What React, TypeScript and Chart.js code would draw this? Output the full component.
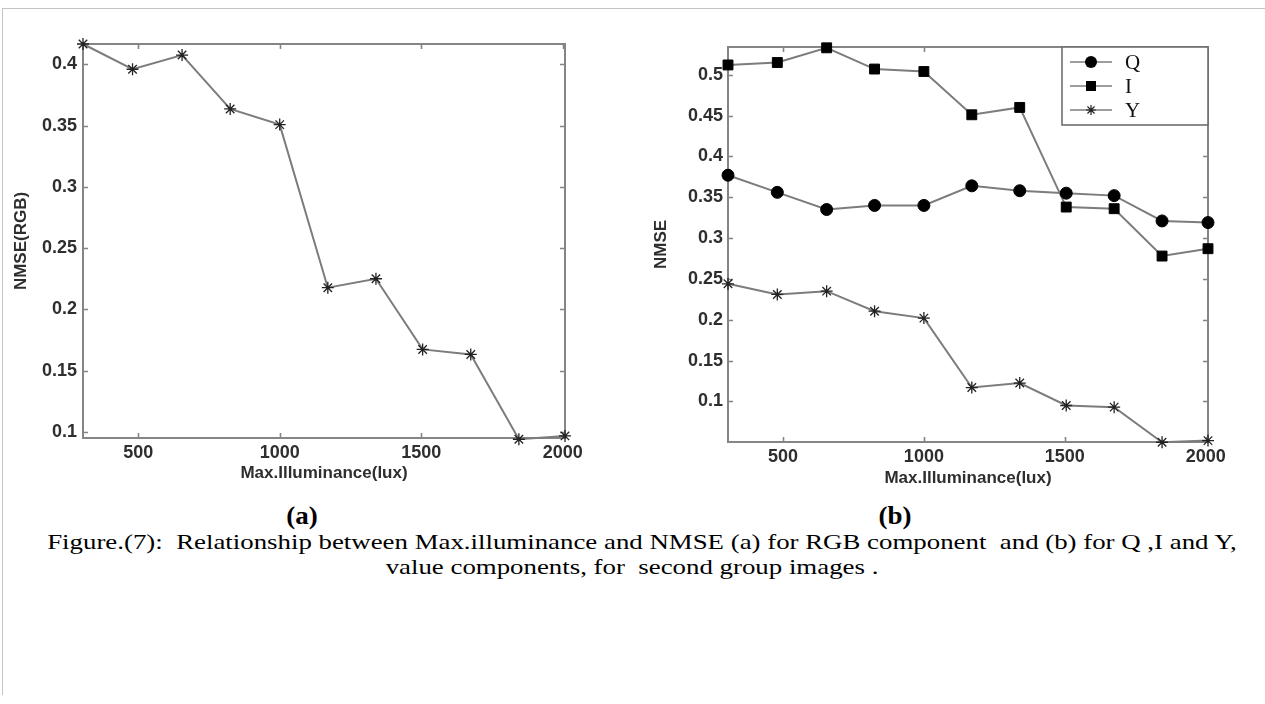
import React, { useEffect, useRef } from "react";
import { Chart, registerables } from "chart.js";

Chart.register(...registerables);

// ---- data ----
const X_VALUES = [305, 480, 655, 825, 1000, 1170, 1340, 1505, 1675, 1845, 2008];
const X_TICKS = [500, 1000, 1500, 2000];

const RGB_NMSE = [0.4166, 0.396, 0.4076, 0.3636, 0.3508, 0.2177, 0.225, 0.1673, 0.1632, 0.094, 0.0967];
const Y_TICKS_A = [0.1, 0.15, 0.2, 0.25, 0.3, 0.35, 0.4];

const Q_NMSE = [0.377, 0.356, 0.335, 0.34, 0.34, 0.364, 0.358, 0.355, 0.352, 0.321, 0.319];
const I_NMSE = [0.512, 0.515, 0.533, 0.507, 0.504, 0.451, 0.46, 0.338, 0.336, 0.278, 0.287];
const Y_NMSE = [0.244, 0.231, 0.235, 0.2105, 0.202, 0.117, 0.1225, 0.095, 0.093, 0.05, 0.052];
const Y_TICKS_B = [0.1, 0.15, 0.2, 0.25, 0.3, 0.35, 0.4, 0.45, 0.5];

const SERIES_B_LABELS = ["Q", "I", "Y"];

const AXIS_COLOR = "#858585";
const LINE_COLOR = "#7c7c7c";
const TEXT_COLOR = "#2e2e2e";
const SANS = "'Liberation Sans', Arial, sans-serif";
const SERIF = "'Liberation Serif', 'Times New Roman', serif";

const toPoints = (ys: number[]) => ys.map((y, i) => ({ x: X_VALUES[i], y }));

// ---- plugins ----
const boxPlugin = {
  id: "matlabBox",
  beforeDatasetsDraw(chart: any) {
    const { ctx, chartArea: a, scales } = chart;
    const tl = 5;
    ctx.save();
    ctx.strokeStyle = AXIS_COLOR;
    ctx.lineWidth = 1.6;
    ctx.beginPath();
    scales.x.ticks.forEach((t: any) => {
      const px = Math.round(scales.x.getPixelForValue(t.value)) + 0.5;
      ctx.moveTo(px, a.bottom);
      ctx.lineTo(px, a.bottom - tl);
      ctx.moveTo(px, a.top);
      ctx.lineTo(px, a.top + tl);
    });
    scales.y.ticks.forEach((t: any) => {
      const py = Math.round(scales.y.getPixelForValue(t.value)) + 0.5;
      ctx.moveTo(a.left, py);
      ctx.lineTo(a.left + tl, py);
      ctx.moveTo(a.right, py);
      ctx.lineTo(a.right - tl, py);
    });
    ctx.stroke();
    ctx.lineWidth = 2;
    ctx.strokeRect(a.left, a.top, a.right - a.left, a.bottom - a.top);
    ctx.restore();
  },
};

function drawMarker(ctx: CanvasRenderingContext2D, style: string, x: number, y: number) {
  ctx.save();
  ctx.fillStyle = "#000";
  ctx.strokeStyle = "#222";
  if (style === "circle") {
    ctx.beginPath();
    ctx.arc(x, y, 6, 0, Math.PI * 2);
    ctx.fill();
  } else if (style === "rect") {
    ctx.fillRect(x - 5, y - 5, 10, 10);
  } else {
    ctx.lineWidth = 1.2;
    ctx.beginPath();
    const r = 5;
    for (let k = 0; k < 4; k++) {
      const ang = (k * Math.PI) / 4;
      ctx.moveTo(x - r * Math.cos(ang), y - r * Math.sin(ang));
      ctx.lineTo(x + r * Math.cos(ang), y + r * Math.sin(ang));
    }
    ctx.stroke();
  }
  ctx.restore();
}

const legendPlugin = {
  id: "boxLegend",
  afterDatasetsDraw(chart: any, _args: any, opts: any) {
    if (!opts || !opts.show) return;
    const { ctx, chartArea: a } = chart;
    const w = 146;
    const h = 78;
    const left = a.right - w;
    const top = a.top;
    ctx.save();
    ctx.fillStyle = "#fff";
    ctx.fillRect(left, top, w, h);
    ctx.strokeStyle = "#6e6e6e";
    ctx.lineWidth = 1.6;
    ctx.strokeRect(left, top, w, h);
    chart.data.datasets.forEach((ds: any, i: number) => {
      const y = top + 15 + i * 24;
      ctx.strokeStyle = LINE_COLOR;
      ctx.lineWidth = 1.6;
      ctx.beginPath();
      ctx.moveTo(left + 8, y);
      ctx.lineTo(left + 50, y);
      ctx.stroke();
      drawMarker(ctx, ds.pointStyle, left + 29, y);
      ctx.fillStyle = "#111";
      ctx.font = `21px ${SERIF}`;
      ctx.textBaseline = "middle";
      ctx.textAlign = "left";
      ctx.fillText(ds.label, left + 63, y + 1);
    });
    ctx.restore();
  },
};

// ---- chart configs ----
type Geo = {
  xMin: number;
  xMax: number;
  yMin: number;
  yMax: number;
  yTicks: number[];
  top: number;
  right: number;
  yWidth: number;
  xHeight: number;
  xTickPad: number;
  xTitlePad: number;
  yTickPad: number;
  yTitlePad: number;
  yTitle: string;
  legend: boolean;
};

function makeOptions(g: Geo) {
  return {
    animation: false,
    responsive: false,
    maintainAspectRatio: false,
    layout: { padding: { top: g.top, right: g.right, left: 0, bottom: 0 } },
    plugins: {
      legend: { display: false },
      tooltip: { enabled: false },
      boxLegend: { show: g.legend },
    },
    scales: {
      x: {
        type: "linear",
        min: g.xMin,
        max: g.xMax,
        grid: { display: false, drawTicks: false },
        border: { display: false },
        afterBuildTicks: (s: any) => {
          s.ticks = X_TICKS.map((v) => ({ value: v }));
        },
        afterFit: (s: any) => {
          s.height = g.xHeight;
        },
        ticks: {
          padding: g.xTickPad,
          color: TEXT_COLOR,
          font: { family: SANS, size: 18, weight: "bold" },
          maxRotation: 0,
          autoSkip: false,
          callback: (v: any) => String(v),
        },
        title: {
          display: true,
          text: "Max.Illuminance(lux)",
          color: TEXT_COLOR,
          font: { family: SANS, size: 17, weight: "bold" },
          padding: { top: 0, bottom: g.xTitlePad },
        },
      },
      y: {
        type: "linear",
        min: g.yMin,
        max: g.yMax,
        grid: { display: false, drawTicks: false },
        border: { display: false },
        afterBuildTicks: (s: any) => {
          s.ticks = g.yTicks.map((v) => ({ value: v }));
        },
        afterFit: (s: any) => {
          s.width = g.yWidth;
        },
        ticks: {
          padding: g.yTickPad,
          color: TEXT_COLOR,
          font: { family: SANS, size: 18, weight: "bold" },
          autoSkip: false,
          callback: (v: any) => String(Number(Number(v).toFixed(2))),
        },
        title: {
          display: true,
          text: g.yTitle,
          color: TEXT_COLOR,
          font: { family: SANS, size: 17, weight: "bold" },
          padding: { top: g.yTitlePad, bottom: 0 },
        },
      },
    },
  };
}

function lineDataset(label: string, ys: number[], style: string, radius: number) {
  return {
    label,
    data: toPoints(ys),
    borderColor: LINE_COLOR,
    borderWidth: 2,
    pointStyle: style,
    pointRadius: radius,
    pointBackgroundColor: "#000",
    pointBorderColor: style === "star" ? "#222" : "#000",
    pointBorderWidth: style === "star" ? 1.3 : 1,
    tension: 0,
    clip: false,
  };
}

function ChartCanvas(props: { config: any; left: number; top: number; width: number; height: number }) {
  const ref = useRef<HTMLCanvasElement | null>(null);
  useEffect(() => {
    if (!ref.current) return;
    const chart = new Chart(ref.current, props.config);
    return () => chart.destroy();
  }, []);
  return (
    <canvas
      ref={ref}
      width={props.width}
      height={props.height}
      style={{
        position: "absolute",
        left: props.left,
        top: props.top,
        width: props.width,
        height: props.height,
      }}
    />
  );
}

const captionStyle: React.CSSProperties = {
  position: "absolute",
  left: 0,
  textAlign: "center",
  fontFamily: SERIF,
  fontSize: 22,
  lineHeight: "25px",
  color: "#000",
  whiteSpace: "pre",
  transform: "scaleX(1.22)",
  transformOrigin: "center",
};

const panelLabelStyle: React.CSSProperties = {
  position: "absolute",
  width: 100,
  top: 502,
  textAlign: "center",
  fontFamily: SERIF,
  fontWeight: "bold",
  fontSize: 25,
  lineHeight: "28px",
  color: "#000",
  transform: "scaleX(1.08)",
};

export default function App() {
  const configA = {
    type: "line",
    data: { datasets: [lineDataset("RGB", RGB_NMSE, "star", 6)] },
    options: makeOptions({
      xMin: X_VALUES[0],
      xMax: X_VALUES[X_VALUES.length - 1],
      yMin: 0.095,
      yMax: 0.4166,
      yTicks: Y_TICKS_A,
      top: 44,
      right: 55,
      yWidth: 83,
      xHeight: 62,
      xTickPad: 4,
      xTitlePad: 16,
      yTickPad: 6,
      yTitlePad: 11,
      yTitle: "NMSE(RGB)",
      legend: false,
    }),
    plugins: [boxPlugin, legendPlugin],
  };

  const configB = {
    type: "line",
    data: {
      datasets: [
        lineDataset(SERIES_B_LABELS[0], Q_NMSE, "circle", 6),
        lineDataset(SERIES_B_LABELS[1], I_NMSE, "rect", 7),
        lineDataset(SERIES_B_LABELS[2], Y_NMSE, "star", 6),
      ],
    },
    options: makeOptions({
      xMin: X_VALUES[0],
      xMax: X_VALUES[X_VALUES.length - 1],
      yMin: 0.0503,
      yMax: 0.534,
      yTicks: Y_TICKS_B,
      top: 47,
      right: 32,
      yWidth: 88,
      xHeight: 58,
      xTickPad: 4,
      xTitlePad: 11,
      yTickPad: 5,
      yTitlePad: 11,
      yTitle: "NMSE",
      legend: true,
    }),
    plugins: [boxPlugin, legendPlugin],
  };

  return (
    <div
      style={{
        position: "absolute",
        left: 0,
        top: 0,
        width: 1265,
        height: 704,
        background: "#fff",
        overflow: "hidden",
      }}
    >
      <div
        style={{
          position: "absolute",
          left: 2,
          top: 8,
          width: 1300,
          height: 686,
          borderLeft: "1px solid #c4c4c4",
          borderTop: "1px solid #c4c4c4",
        }}
      />
      <ChartCanvas config={configA} left={0} top={0} width={620} height={500} />
      <ChartCanvas config={configB} left={640} top={0} width={600} height={500} />
      <div style={{ ...panelLabelStyle, left: 252 }}>(a)</div>
      <div style={{ ...panelLabelStyle, left: 845 }}>(b)</div>
      <div style={{ ...captionStyle, width: 1284, top: 529 }}>
        {"Figure.(7):  Relationship between Max.illuminance and NMSE (a) for RGB component  and (b) for Q ,I and Y,"}
      </div>
      <div style={{ ...captionStyle, width: 1264, top: 554 }}>
        {"value components, for  second group images ."}
      </div>
    </div>
  );
}
